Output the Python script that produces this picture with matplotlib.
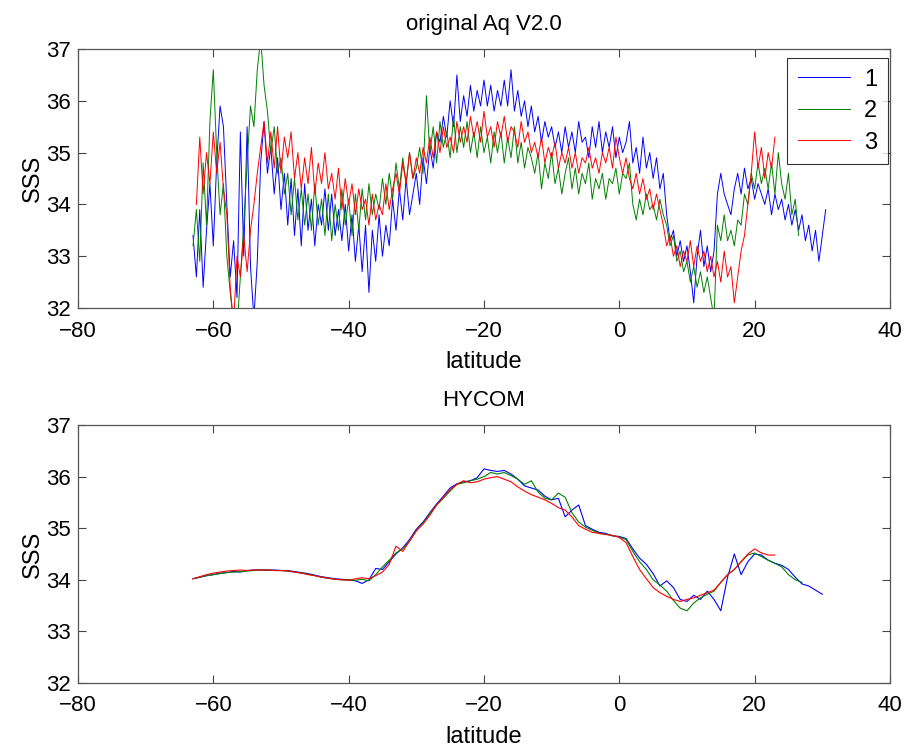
import numpy as np
import matplotlib
matplotlib.use('Agg')
import matplotlib.pyplot as plt

plt.rcParams['font.family'] = ['Liberation Sans Narrow', 'Liberation Sans', 'DejaVu Sans']

# ---- original Aq V2.0 (0.5 deg spacing) ----
aq_start = [-63.0, -63.0, -62.5]
aq1 = [33.4, 32.6, 33.9, 32.4, 33.5, 34.4, 33.2, 34.8, 35.9, 35.5,
       34.0, 32.6, 33.3, 32.2, 35.4, 33.0, 35.5, 32.8, 31.8, 32.9,
       34.8, 35.6, 34.6, 35.1, 34.2, 34.9, 33.9, 34.6, 33.6, 34.5,
       33.4, 34.3, 33.2, 34.4, 33.5, 34.1, 33.2, 34.0, 33.6, 34.3,
       33.5, 34.2, 33.4, 33.9, 33.3, 34.0, 33.1, 33.8, 32.9, 33.6,
       32.7, 33.6, 32.3, 33.5, 32.9, 33.8, 33.0, 33.6, 33.2, 34.1,
       33.5, 34.3, 33.7, 34.5, 33.8, 34.2, 34.6, 34.0, 34.9, 34.4,
       35.1, 34.7, 35.4, 35.2, 35.7, 35.3, 36.0, 35.5, 36.5, 35.6,
       36.1, 35.7, 36.3, 35.8, 36.2, 35.9, 36.4, 35.9, 36.3, 35.8,
       36.2, 35.9, 36.4, 35.9, 36.6, 35.8, 36.2, 35.7, 36.0, 35.5,
       35.9, 35.4, 35.7, 35.2, 35.6, 35.3, 35.5, 35.1, 35.4, 35.0,
       35.5, 35.1, 35.4, 35.0, 35.6, 35.2, 35.3, 34.9, 35.5, 35.1,
       35.6, 35.0, 35.4, 35.1, 35.5, 34.9, 35.3, 35.0, 35.2, 35.6,
       34.8, 35.1, 34.6, 35.3, 34.7, 35.0, 34.5, 34.9, 34.3, 34.6,
       33.8, 33.3, 33.5, 33.0, 33.3, 32.9, 33.2, 32.7, 32.1, 33.0,
       33.5, 32.8, 33.2, 32.7, 33.1, 34.2, 34.6, 34.2, 34.0, 33.8,
       34.3, 34.6, 34.2, 34.7, 34.3, 34.5, 34.1, 34.4, 34.2, 34.0,
       34.3, 33.8, 34.2, 33.9, 34.1, 33.7, 34.0, 33.6, 33.9, 33.5,
       33.8, 33.3, 33.6, 33.1, 33.5, 32.9, 33.4, 33.9]
aq2 = [33.2, 33.9, 32.9, 34.8, 33.6, 35.6, 36.6, 35.0, 33.8, 34.4,
       33.0, 32.3, 31.7, 31.6, 32.6, 33.6, 34.8, 35.9, 35.5, 36.6,
       37.2, 36.3, 35.8, 35.0, 35.5, 34.6, 34.9, 34.2, 34.6, 33.8,
       34.5, 33.7, 34.3, 33.6, 34.2, 33.5, 34.4, 33.6, 34.1, 33.4,
       34.2, 33.3, 34.0, 33.5, 34.3, 33.6, 34.1, 33.4, 34.2, 33.5,
       34.3, 33.7, 34.4, 33.8, 34.2, 33.9, 34.5, 34.0, 34.6, 34.1,
       34.8, 34.3, 34.9, 34.4, 35.0, 34.5, 34.7, 35.1, 34.6, 36.1,
       35.0, 35.5, 34.8, 35.6, 35.1, 35.4, 34.9, 35.7, 35.0, 35.5,
       35.1, 35.6, 35.0, 35.4, 34.9, 35.5, 35.0, 35.3, 34.8, 35.4,
       35.0, 35.4, 34.8, 35.3, 34.9, 35.5, 34.8, 35.2, 34.7, 35.1,
       34.9, 34.6, 35.0, 34.3, 34.8, 34.5, 35.0, 34.4, 34.7, 34.2,
       34.6, 34.9, 34.3, 34.7, 34.2, 34.6, 34.4, 34.8, 34.1, 34.5,
       34.3, 34.6, 34.1, 34.5, 34.4, 34.7, 34.2, 34.6, 34.5, 34.8,
       34.0, 33.7, 34.1, 33.8, 34.2, 33.9, 34.0, 33.7, 34.1, 33.8,
       33.6, 33.2, 33.4, 32.9, 33.1, 32.7, 32.9, 32.5, 32.8, 32.4,
       32.7, 32.3, 32.6, 32.2, 31.8, 33.6, 33.3, 33.8, 33.3, 33.5,
       33.2, 33.7, 33.6, 34.2, 34.0, 34.6, 34.3, 34.8, 34.4, 34.7,
       34.3, 34.8, 34.2, 35.0, 34.4, 34.1, 34.6, 33.8, 34.1, 33.4]
aq3 = [34.0, 35.3, 34.2, 35.0, 34.4, 35.4, 34.6, 35.2, 34.3, 33.8,
       32.4, 31.7, 33.0, 32.6, 33.4, 32.7, 33.5, 34.0, 34.6, 35.1,
       35.6, 34.8, 35.4, 34.7, 35.5, 34.6, 35.3, 34.9, 35.4, 34.5,
       35.0, 34.3, 34.9, 34.4, 35.1, 34.2, 34.8, 34.4, 35.0, 34.3,
       34.6, 34.1, 34.7, 33.9, 34.5, 34.0, 34.4, 33.8, 34.3, 33.9,
       34.1, 33.6, 34.2, 33.7, 34.0, 33.8, 34.4, 33.9, 34.3, 34.6,
       34.2, 34.8, 34.4, 35.0, 34.5, 34.9, 34.6, 35.1, 34.8, 35.3,
       34.9, 35.4, 35.0, 35.5, 35.1, 35.3, 35.0, 35.6, 35.2, 35.5,
       35.2, 35.7, 35.3, 35.6, 35.2, 35.8, 35.3, 35.5, 35.1, 35.6,
       35.3, 35.7, 35.2, 35.5, 35.4, 35.1, 35.6, 35.2, 35.4, 35.0,
       35.2, 34.9, 35.3, 34.8, 35.1, 34.9, 35.2, 34.7, 35.0, 34.8,
       35.1, 34.7, 35.0, 34.6, 34.9, 34.8, 35.1, 34.7, 34.9, 34.6,
       35.0, 34.8, 35.1, 34.7, 35.3, 34.9, 34.6, 34.9, 34.5, 34.3,
       34.6, 34.2, 34.5, 34.1, 34.3, 33.9, 34.2, 33.9, 33.6, 33.2,
       33.4, 33.0, 33.2, 32.8, 33.1, 32.9, 33.3, 32.8, 33.2, 32.9,
       33.1, 32.7, 33.0, 32.6, 32.9, 32.5, 33.1, 32.6, 32.8, 32.1,
       32.6, 33.1, 33.4, 34.0, 34.6, 35.4, 34.7, 35.1, 34.5, 35.0,
       34.7, 35.3]

# ---- HYCOM (1 deg spacing) ----
hy_start = [-63, -63, -63]
hy1 = [34.02, 34.05, 34.08, 34.10, 34.13, 34.14, 34.16, 34.15, 34.18, 34.19,
       34.19, 34.19, 34.19, 34.18, 34.18, 34.16, 34.14, 34.12, 34.09, 34.06,
       34.04, 34.02, 34.01, 34.00, 33.98, 33.93, 34.00, 34.22, 34.20, 34.35,
       34.50, 34.62, 34.78, 34.98, 35.12, 35.30, 35.47, 35.62, 35.78, 35.86,
       35.90, 35.92, 35.98, 36.15, 36.12, 36.10, 36.12, 36.05, 35.95, 35.82,
       35.78, 35.74, 35.62, 35.55, 35.58, 35.22, 35.35, 35.45, 35.05, 34.98,
       34.92, 34.90, 34.85, 34.84, 34.80, 34.60, 34.42, 34.30, 34.12, 33.88,
       33.98, 33.85, 33.62, 33.58, 33.70, 33.62, 33.78, 33.62, 33.40, 34.05,
       34.50, 34.10, 34.35, 34.50, 34.48, 34.38, 34.32, 34.28, 34.20, 34.05,
       33.92, 33.88, 33.80, 33.72]
hy2 = [34.02, 34.05, 34.08, 34.10, 34.12, 34.14, 34.15, 34.16, 34.17, 34.18,
       34.19, 34.19, 34.18, 34.18, 34.17, 34.15, 34.13, 34.11, 34.08, 34.05,
       34.03, 34.01, 34.00, 34.00, 33.99, 34.01, 33.98, 34.10, 34.25, 34.38,
       34.52, 34.60, 34.75, 34.95, 35.10, 35.28, 35.45, 35.58, 35.72, 35.85,
       35.88, 35.92, 35.95, 36.00, 36.08, 36.05, 36.08, 36.02, 35.95, 35.85,
       35.92, 35.70, 35.58, 35.55, 35.68, 35.60, 35.30, 35.12, 35.02, 34.96,
       34.90, 34.88, 34.86, 34.83, 34.78, 34.55, 34.35, 34.20, 34.00, 33.90,
       33.78, 33.60, 33.45, 33.40, 33.55, 33.65, 33.72, 33.78, 33.95, 34.10,
       34.20, 34.35, 34.48, 34.52, 34.45, 34.38, 34.32, 34.25, 34.10, 34.00,
       33.95]
hy3 = [34.02, 34.06, 34.10, 34.13, 34.15, 34.17, 34.18, 34.19, 34.18, 34.19,
       34.19, 34.19, 34.18, 34.18, 34.17, 34.15, 34.13, 34.10, 34.08, 34.05,
       34.03, 34.01, 34.00, 33.99, 34.02, 34.04, 34.02, 34.08, 34.15, 34.30,
       34.65, 34.55, 34.75, 34.95, 35.08, 35.25, 35.45, 35.60, 35.75, 35.85,
       35.92, 35.88, 35.90, 35.95, 35.98, 36.00, 35.95, 35.90, 35.80, 35.72,
       35.65, 35.60, 35.55, 35.48, 35.40, 35.35, 35.22, 35.05, 34.98, 34.92,
       34.90, 34.88, 34.86, 34.82, 34.72, 34.45, 34.20, 34.02, 33.85, 33.75,
       33.68, 33.62, 33.58, 33.62, 33.65, 33.70, 33.75, 33.80, 33.95, 34.10,
       34.20, 34.35, 34.50, 34.60, 34.52, 34.48, 34.48]

labels = ['1', '2', '3']
colors = ['#0000ff', '#008000', '#ff0000']

fig = plt.figure(figsize=(9.14, 7.48), dpi=100)
ax1 = fig.add_axes([0.0853, 0.5882, 0.8884, 0.3463])
ax2 = fig.add_axes([0.0853, 0.0869, 0.8884, 0.3449])

for s0, y, c, lab in zip(aq_start, [aq1, aq2, aq3], colors, labels):
    x = s0 + 0.5 * np.arange(len(y))
    ax1.plot(x, y, color=c, lw=0.7, label=lab)
for s0, y, c in zip(hy_start, [hy1, hy2, hy3], colors):
    x = s0 + 1.0 * np.arange(len(y))
    ax2.plot(x, y, color=c, lw=0.8)

for ax, title in [(ax1, 'original Aq V2.0'), (ax2, 'HYCOM')]:
    ax.set_xlim(-80, 40)
    ax.set_ylim(32, 37)
    ax.set_xticks(np.arange(-80, 41, 20))
    ax.set_yticks(np.arange(32, 38, 1))
    ax.tick_params(direction='in', top=True, right=True, length=6,
                   labelsize=16, color='#444444')
    ax.tick_params(axis='x', pad=9)
    ax.tick_params(axis='y', pad=5)
    for sp in ax.spines.values():
        sp.set_color('#555555')
        sp.set_linewidth(0.9)
    ax.set_xlabel('latitude', fontsize=17, labelpad=7)
    ax.set_ylabel('SSS', fontsize=17, labelpad=2)
    ax.set_title(title, fontsize=16, pad=14)

leg = ax1.legend(loc='upper right', fontsize=17, frameon=True, fancybox=False,
                 handlelength=2.2, handletextpad=0.6, borderpad=0.45,
                 labelspacing=0.4, borderaxespad=0.0,
                 bbox_to_anchor=(0.997, 0.965))
leg.get_frame().set_edgecolor('black')
leg.get_frame().set_linewidth(0.8)

fig.savefig('out.png', dpi=100)
